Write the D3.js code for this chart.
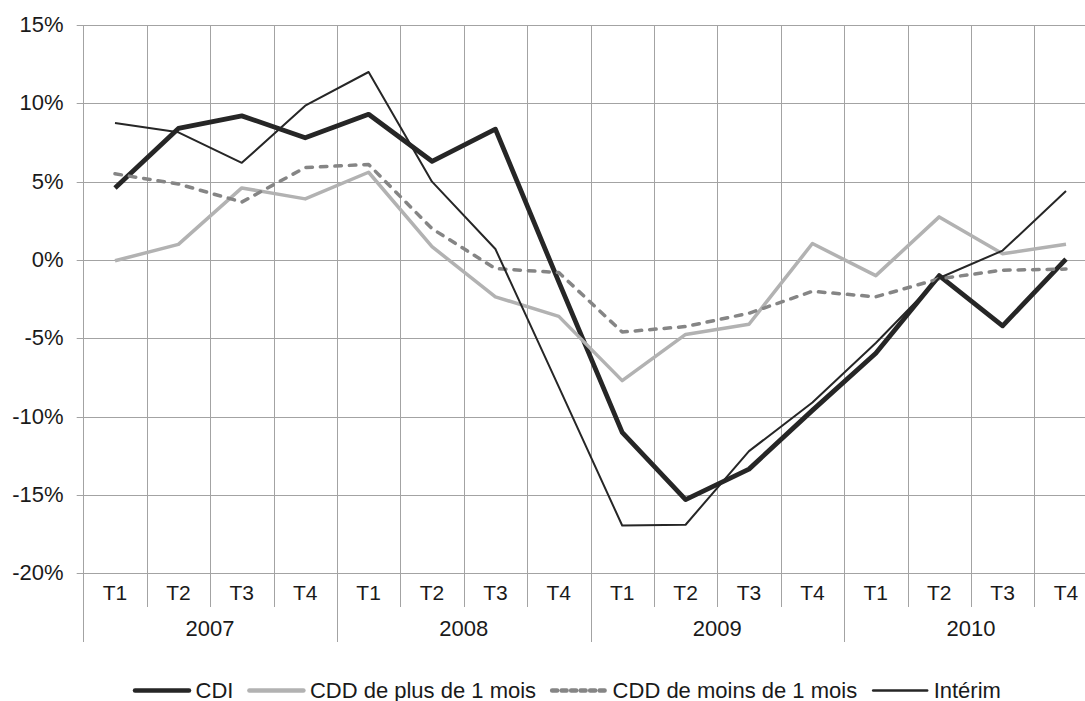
<!DOCTYPE html>
<html>
<head>
<meta charset="utf-8">
<script src="https://cdn.jsdelivr.net/npm/d3@7"></script>
<style>
  html, body { margin: 0; padding: 0; background: #fff; }
  text { font-family: "Liberation Sans", Arial, sans-serif; fill: #1a1a1a; }
</style>
</head>
<body>
<svg id="chart" width="1085" height="701"></svg>
<script>
const quarters = ["T1","T2","T3","T4","T1","T2","T3","T4","T1","T2","T3","T4","T1","T2","T3","T4"];
const years = ["2007","2008","2009","2010"];
const yTicks = [-20,-15,-10,-5,0,5,10,15];

const cdi      = [4.6, 8.4, 9.2, 7.8, 9.3, 6.3, 8.35, -1.4, -11.0, -15.3, -13.35, -9.6, -5.95, -1.0, -4.2, 0.05];
const cddPlus  = [-0.05, 1.0, 4.6, 3.9, 5.6, 0.85, -2.35, -3.6, -7.7, -4.75, -4.1, 1.05, -1.0, 2.75, 0.4, 1.0];
const cddMoins = [5.5, 4.85, 3.7, 5.9, 6.1, 2.0, -0.55, -0.8, -4.6, -4.25, -3.4, -2.0, -2.35, -1.2, -0.65, -0.58];
const interim  = [8.75, 8.15, 6.2, 9.85, 12.0, 5.0, 0.7, -8.1, -16.95, -16.9, -12.2, -9.1, -5.3, -1.15, 0.6, 4.4];

const seriesNames = ["CDI", "CDD de plus de 1 mois", "CDD de moins de 1 mois", "Intérim"];

const series = [
  {name: seriesNames[0], values: cdi,      color: "#262626", width: 4.8, dash: null},
  {name: seriesNames[1], values: cddPlus,  color: "#b2b2b2", width: 3.5, dash: null},
  {name: seriesNames[2], values: cddMoins, color: "#858585", width: 3.5, dash: "6.5,8"},
  {name: seriesNames[3], values: interim,  color: "#262626", width: 2,   dash: null}
];

const svg = d3.select("#chart");
const pLeft = 83.3, pRight = 1097.7, pTop = 25, pBottom = 573.3;

const x = d3.scaleBand().domain(d3.range(quarters.length)).range([pLeft, pRight]).padding(0);
const y = d3.scaleLinear().domain([-20, 15]).range([pBottom, pTop]);
const gridColor = "#a3a3a3";

// horizontal gridlines
svg.append("g").selectAll("line").data(yTicks).join("line")
  .attr("x1", pLeft - 6.6).attr("x2", pRight)
  .attr("y1", d => Math.round(y(d)) + 0.5).attr("y2", d => Math.round(y(d)) + 0.5)
  .attr("stroke", gridColor).attr("stroke-width", 1);

// vertical gridlines (category boundaries)
const bounds = d3.range(quarters.length + 1).map(i => i < quarters.length ? x(i) : pRight);
svg.append("g").selectAll("line").data(bounds).join("line")
  .attr("x1", d => Math.round(d) + 0.5).attr("x2", d => Math.round(d) + 0.5)
  .attr("y1", pTop)
  .attr("y2", (d, i) => (i % 4 === 0) ? 642 : 607)
  .attr("stroke", gridColor).attr("stroke-width", 1);

// y labels
svg.append("g").selectAll("text").data(yTicks).join("text")
  .attr("x", 63.5).attr("y", d => y(d) - 0.8)
  .attr("dy", "0.36em")
  .attr("text-anchor", "end")
  .attr("font-size", 22)
  .text(d => d + "%");

// quarter labels
svg.append("g").selectAll("text").data(quarters).join("text")
  .attr("x", (d, i) => x(i) + x.bandwidth() / 2)
  .attr("y", 592).attr("dy", "0.36em")
  .attr("text-anchor", "middle").attr("font-size", 21)
  .text(d => d);

// year labels
svg.append("g").selectAll("text").data(years).join("text")
  .attr("x", (d, i) => x(i * 4) + x.bandwidth() * 2)
  .attr("y", 628).attr("dy", "0.36em")
  .attr("text-anchor", "middle").attr("font-size", 22)
  .text(d => d);

// lines
const line = d3.line()
  .x((d, i) => x(i) + x.bandwidth() / 2)
  .y(d => y(d));

svg.append("g").selectAll("path").data(series).join("path")
  .attr("d", d => line(d.values))
  .attr("fill", "none")
  .attr("stroke", d => d.color)
  .attr("stroke-width", d => d.width)
  .attr("stroke-dasharray", d => d.dash)
  .attr("stroke-linecap", d => d.dash ? "round" : "butt")
  .attr("stroke-linejoin", "round");

// legend
const lg = svg.append("g");
let cx = 135;
const ly = 690.5;
series.forEach((s, i) => {
  lg.append("line")
    .attr("x1", cx).attr("x2", cx + 54)
    .attr("y1", ly).attr("y2", ly)
    .attr("stroke", s.color)
    .attr("stroke-width", i === 3 ? 2.5 : 4.5)
    .attr("stroke-dasharray", s.dash ? "5,4.5" : null)
    .attr("stroke-linecap", "round");
  const t = lg.append("text")
    .attr("x", cx + 60.5).attr("y", ly).attr("dy", "0.35em")
    .attr("font-size", 22)
    .text(s.name);
  cx = cx + 60.5 + t.node().getComputedTextLength() + 16;
});
</script>
</body>
</html>
